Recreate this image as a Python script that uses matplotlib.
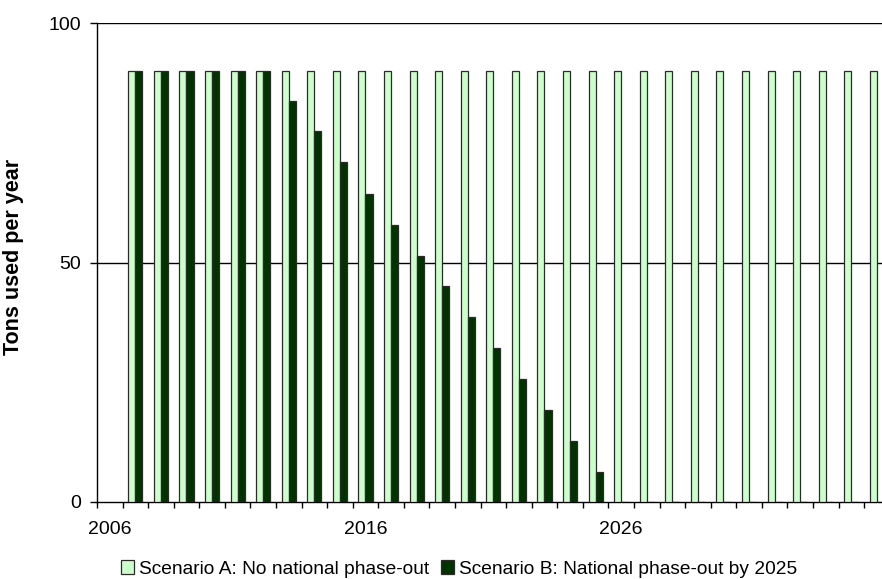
import numpy as np
import matplotlib
matplotlib.use("Agg")
import matplotlib.pyplot as plt
from matplotlib.patches import Patch

plt.rcParams['font.family'] = ['Liberation Sans', 'DejaVu Sans']

# Category axis runs 2006-2036; 2006 carries no bars
axis_years = list(range(2006, 2037))
years = list(range(2007, 2037))
scenario_a = [90] * 30
scenario_b = [90, 90, 90, 90, 90, 90,
              83.8, 77.4, 70.9, 64.4, 57.9, 51.4, 45.1, 38.6, 32.1, 25.7, 19.2, 12.7, 6.3,
              0, 0, 0, 0, 0, 0, 0, 0, 0, 0, 0]
label_years = [2006, 2016, 2026]
y_ticks = [0, 50, 100]

series_labels = ["Scenario A: No national phase-out",
                 "Scenario B: National phase-out by 2025"]
color_a = "#CCFFCC"
color_b = "#003300"
edge = "#2b2b2b"

W, H = 882, 579
fig = plt.figure(figsize=(W / 100, H / 100), dpi=100)
left, right, bottom, top = 97, 889.7, 502, 23
ax = fig.add_axes([left / W, 1 - bottom / H, (right - left) / W, (bottom - top) / H])

x = np.array(years, dtype=float)
bw = 0.275
ax.bar(x - bw / 2, scenario_a, width=bw, color=color_a, edgecolor=edge, linewidth=0.9, zorder=3)
ax.bar(x + bw / 2, scenario_b, width=bw, color=color_b, edgecolor=edge, linewidth=0.9, zorder=3)

ax.set_xlim(axis_years[0] - 0.5, axis_years[-1] + 0.5)
ax.set_ylim(0, 100)

# Horizontal gridlines
for yv in y_ticks[1:]:
    ax.axhline(yv, color="black", linewidth=1.0, zorder=1)

for s in ["top", "right"]:
    ax.spines[s].set_visible(False)
for s in ["left", "bottom"]:
    ax.spines[s].set_color("black")
    ax.spines[s].set_linewidth(1.0)

ax.set_yticks(y_ticks)
ax.set_yticklabels([str(v) for v in y_ticks])
ax.tick_params(axis="y", direction="out", length=5, width=1, pad=6.5, labelsize=14, colors="black")

ax.set_xticks(label_years)
ax.set_xticklabels([str(v) for v in label_years])
ax.set_xticks(np.arange(axis_years[0] - 0.5, axis_years[-1] + 1.0, 1.0), minor=True)
ax.tick_params(axis="x", which="major", length=0, pad=14, labelsize=14)
ax.tick_params(axis="x", which="minor", direction="out", length=4, width=1)

ax.set_ylabel("Tons used per year", fontsize=15.5, fontweight="bold")
ax.yaxis.set_label_coords(-(left - 24) / (right - left), (bottom - 257) / (bottom - top))

handles = [Patch(facecolor=color_a, edgecolor=edge, linewidth=0.9),
           Patch(facecolor=color_b, edgecolor=edge, linewidth=0.9)]
fig.legend(handles, series_labels, loc="center", bbox_to_anchor=(459 / W, 1 - 569 / H),
           ncol=2, frameon=False, fontsize=13.8, handlelength=0.68, handleheight=0.68,
           handletextpad=0.27, columnspacing=0.6, borderaxespad=0, borderpad=0)

fig.savefig("out.png", dpi=100)
